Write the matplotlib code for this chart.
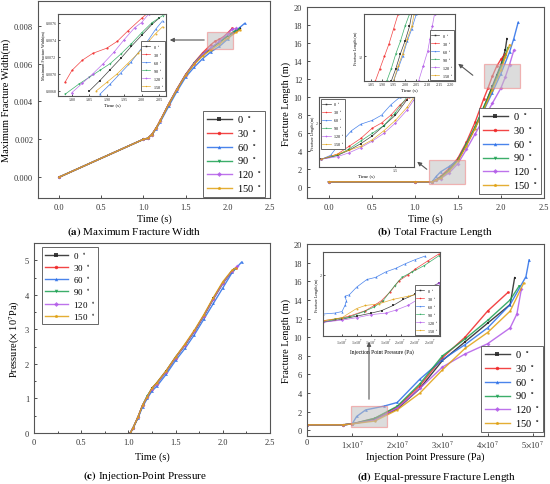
import matplotlib
matplotlib.use('Agg')
import matplotlib.pyplot as plt
import numpy as np
from matplotlib.patches import Rectangle
from matplotlib.ticker import FormatStrFormatter, FuncFormatter, MultipleLocator

plt.rcParams['font.family'] = ['Liberation Serif', 'DejaVu Serif']
plt.rcParams['mathtext.fontset'] = 'stix'

angles = [0, 30, 60, 90, 120, 150]
colors = ['#222222', '#f02424', '#2a6ee8', '#1aa050', '#b25ae8', '#e0a010']
markers = ['s', 'o', '^', 'v', 'D', 'p']

# (a) maximum fracture width vs time
a_time = [
    [0.0, 1.0, 1.05, 1.1, 1.15, 1.2, 1.3, 1.4, 1.5, 1.6, 1.7, 1.8, 1.9, 2.0, 2.1, 2.15],
    [0.0, 1.0, 1.05, 1.1, 1.15, 1.2, 1.3, 1.4, 1.5, 1.6, 1.7, 1.8, 1.85, 1.9, 1.95, 2.0, 2.05],
    [0.0, 1.0, 1.05, 1.1, 1.15, 1.2, 1.3, 1.4, 1.5, 1.6, 1.7, 1.8, 1.9, 2.0, 2.1, 2.2],
    [0.0, 1.0, 1.05, 1.1, 1.15, 1.2, 1.3, 1.4, 1.5, 1.6, 1.7, 1.8, 1.9, 2.0, 2.1, 2.12],
    [0.0, 1.0, 1.05, 1.1, 1.15, 1.2, 1.3, 1.4, 1.5, 1.6, 1.7, 1.8, 1.9, 2.0, 2.05, 2.1],
    [0.0, 1.0, 1.05, 1.1, 1.15, 1.2, 1.3, 1.4, 1.5, 1.6, 1.7, 1.8, 1.9, 2.0, 2.1, 2.15],
]
a_width = [
    [0.0, 0.00200, 0.00205, 0.00225, 0.00258, 0.00298, 0.00385, 0.00465, 0.00540, 0.00598, 0.00645, 0.00680, 0.00712, 0.00745, 0.00772, 0.00785],
    [0.0, 0.00200, 0.00205, 0.00226, 0.00260, 0.00300, 0.00388, 0.00468, 0.00542, 0.00604, 0.00656, 0.00700, 0.00718, 0.00728, 0.00742, 0.00762, 0.00785],
    [0.0, 0.00200, 0.00205, 0.00224, 0.00255, 0.00292, 0.00375, 0.00455, 0.00528, 0.00580, 0.00625, 0.00662, 0.00690, 0.00730, 0.00775, 0.00812],
    [0.0, 0.00200, 0.00205, 0.00225, 0.00258, 0.00298, 0.00386, 0.00466, 0.00540, 0.00602, 0.00650, 0.00682, 0.00712, 0.00748, 0.00778, 0.00782],
    [0.0, 0.00200, 0.00205, 0.00225, 0.00258, 0.00298, 0.00386, 0.00466, 0.00540, 0.00600, 0.00648, 0.00685, 0.00718, 0.00758, 0.00780, 0.00785],
    [0.0, 0.00200, 0.00205, 0.00225, 0.00258, 0.00298, 0.00385, 0.00464, 0.00538, 0.00595, 0.00640, 0.00672, 0.00702, 0.00735, 0.00765, 0.00778],
]
ins_a_time = [
    [1.85, 1.88, 1.91, 1.94, 1.97, 2.00, 2.03, 2.05],
    [1.78, 1.80, 1.83, 1.86, 1.90, 1.93, 1.96, 2.00, 2.02],
    [1.88, 1.91, 1.94, 1.97, 2.00, 2.02, 2.04, 2.06],
    [1.78, 1.82, 1.85, 1.88, 1.91, 1.94, 1.97, 2.00, 2.03, 2.06],
    [1.80, 1.83, 1.86, 1.89, 1.92, 1.95, 1.98, 2.00, 2.02],
    [1.87, 1.90, 1.93, 1.96, 1.99, 2.02, 2.04, 2.06],
]
ins_a_width = [
    [0.00680, 0.00692, 0.00705, 0.00718, 0.00732, 0.00745, 0.00758, 0.00765],
    [0.00690, 0.00704, 0.00716, 0.00724, 0.00730, 0.00738, 0.00750, 0.00765, 0.00772],
    [0.00676, 0.00688, 0.00701, 0.00714, 0.00730, 0.00740, 0.00752, 0.00762],
    [0.00676, 0.00688, 0.00696, 0.00704, 0.00712, 0.00723, 0.00735, 0.00748, 0.00760, 0.00768],
    [0.00678, 0.00689, 0.00700, 0.00712, 0.00725, 0.00740, 0.00754, 0.00760, 0.00770],
    [0.00680, 0.00690, 0.00700, 0.00712, 0.00724, 0.00738, 0.00747, 0.00755],
]

# (b) total fracture length vs time
b_time = [
    [0.0, 1.0, 1.2, 1.25, 1.3, 1.4, 1.5, 1.6, 1.7, 1.8, 1.9, 1.95, 2.0, 2.05, 2.07],
    [0.0, 1.0, 1.2, 1.25, 1.3, 1.4, 1.5, 1.6, 1.7, 1.8, 1.85, 1.9, 1.95, 2.0, 2.05],
    [0.0, 1.0, 1.2, 1.25, 1.3, 1.4, 1.5, 1.6, 1.7, 1.8, 1.9, 2.0, 2.1, 2.15, 2.2],
    [0.0, 1.0, 1.2, 1.25, 1.3, 1.4, 1.5, 1.6, 1.7, 1.8, 1.9, 1.95, 2.0, 2.05, 2.08],
    [0.0, 1.0, 1.2, 1.25, 1.3, 1.4, 1.5, 1.6, 1.7, 1.8, 1.9, 2.0, 2.05, 2.1, 2.15],
    [0.0, 1.0, 1.2, 1.25, 1.3, 1.4, 1.5, 1.6, 1.7, 1.8, 1.9, 2.0, 2.05, 2.1],
]
b_length = [
    [0.6, 0.6, 0.6, 0.8, 1.1, 1.9, 3.0, 4.7, 6.6, 8.8, 11.2, 12.4, 13.6, 15.2, 16.5],
    [0.6, 0.6, 0.6, 0.85, 1.2, 2.1, 3.2, 5.0, 7.2, 9.8, 11.0, 12.3, 13.4, 14.2, 14.8],
    [0.6, 0.6, 0.6, 1.2, 1.7, 2.3, 3.0, 4.8, 6.6, 8.5, 10.5, 12.6, 15.0, 16.5, 18.3],
    [0.6, 0.6, 0.6, 0.8, 1.1, 1.9, 3.0, 4.8, 6.7, 8.9, 11.0, 12.2, 13.4, 14.6, 15.5],
    [0.6, 0.6, 0.6, 0.75, 0.95, 1.6, 2.6, 4.2, 5.9, 7.6, 9.3, 11.0, 12.2, 13.6, 15.2],
    [0.6, 0.6, 0.6, 0.8, 1.0, 1.8, 2.9, 4.6, 6.5, 8.6, 10.8, 13.0, 14.4, 15.8],
]
ins_b1_time = [
    [1.94, 1.96, 1.98, 2.00, 2.02, 2.03],
    [1.87, 1.89, 1.91, 1.93, 1.95, 1.97],
    [1.95, 1.97, 1.99, 2.01, 2.03, 2.05],
    [1.92, 1.94, 1.96, 1.98, 2.00, 2.02],
    [2.06, 2.08, 2.10, 2.11, 2.12, 2.13],
    [1.95, 1.97, 1.99, 2.01, 2.03, 2.04],
]
ins_b1_length = [
    [11.0, 11.5, 12.1, 12.6, 13.2, 13.7],
    [11.0, 11.5, 12.0, 12.5, 13.1, 13.7],
    [11.0, 11.5, 12.0, 12.6, 13.1, 13.7],
    [11.0, 11.5, 12.1, 12.6, 13.2, 13.7],
    [11.0, 11.6, 12.2, 12.7, 13.2, 13.7],
    [11.0, 11.6, 12.1, 12.7, 13.2, 13.7],
]
ins_b2_time = [
    [1.18, 1.25, 1.30, 1.35, 1.40, 1.45, 1.50, 1.55],
    [1.18, 1.25, 1.30, 1.35, 1.40, 1.44, 1.48, 1.52, 1.56],
    [1.18, 1.22, 1.25, 1.28, 1.31, 1.35, 1.40, 1.44, 1.48, 1.52],
    [1.18, 1.25, 1.30, 1.35, 1.40, 1.45, 1.50, 1.55],
    [1.18, 1.25, 1.30, 1.35, 1.40, 1.45, 1.50, 1.55, 1.58],
    [1.18, 1.25, 1.30, 1.35, 1.40, 1.45, 1.50, 1.55, 1.58],
]
ins_b2_length = [
    [0.6, 0.75, 0.95, 1.2, 1.5, 1.9, 2.3, 2.9],
    [0.6, 0.8, 1.1, 1.4, 1.8, 2.0, 2.3, 2.7, 3.0],
    [0.6, 0.75, 1.1, 1.4, 1.7, 1.95, 2.1, 2.3, 2.7, 3.0],
    [0.6, 0.75, 1.0, 1.3, 1.6, 1.9, 2.4, 3.0],
    [0.6, 0.7, 0.85, 1.05, 1.3, 1.6, 2.0, 2.5, 2.9],
    [0.6, 0.8, 0.95, 1.1, 1.35, 1.7, 2.1, 2.6, 3.0],
]

# (c) injection-point pressure (x 10^7 Pa) vs time
c_time = [
    [1.02, 1.05, 1.1, 1.15, 1.2, 1.25, 1.3, 1.4, 1.5, 1.6, 1.7, 1.8, 1.9, 2.0, 2.1, 2.15],
    [1.02, 1.05, 1.1, 1.15, 1.2, 1.25, 1.3, 1.4, 1.5, 1.6, 1.7, 1.8, 1.9, 2.0, 2.1, 2.14],
    [1.02, 1.05, 1.1, 1.15, 1.2, 1.25, 1.3, 1.4, 1.5, 1.6, 1.7, 1.8, 1.9, 2.0, 2.1, 2.2],
    [1.02, 1.05, 1.1, 1.15, 1.2, 1.25, 1.3, 1.4, 1.5, 1.6, 1.7, 1.8, 1.9, 2.0, 2.1, 2.12],
    [1.02, 1.05, 1.1, 1.15, 1.2, 1.25, 1.3, 1.4, 1.5, 1.6, 1.7, 1.8, 1.9, 2.0, 2.1, 2.15],
    [1.02, 1.05, 1.1, 1.15, 1.2, 1.25, 1.3, 1.4, 1.5, 1.6, 1.7, 1.8, 1.9, 2.0, 2.1, 2.14],
]
c_pressure = [
    [0.0, 0.15, 0.45, 0.80, 1.05, 1.30, 1.45, 1.80, 2.20, 2.55, 2.95, 3.40, 3.90, 4.35, 4.70, 4.80],
    [0.0, 0.15, 0.45, 0.80, 1.05, 1.28, 1.43, 1.78, 2.18, 2.55, 2.95, 3.40, 3.88, 4.33, 4.70, 4.78],
    [0.0, 0.15, 0.42, 0.76, 1.00, 1.22, 1.35, 1.70, 2.10, 2.45, 2.85, 3.30, 3.75, 4.20, 4.65, 4.95],
    [0.0, 0.15, 0.45, 0.80, 1.08, 1.28, 1.43, 1.78, 2.18, 2.55, 2.95, 3.40, 3.88, 4.33, 4.70, 4.75],
    [0.0, 0.15, 0.45, 0.80, 1.05, 1.28, 1.42, 1.78, 2.18, 2.55, 2.95, 3.40, 3.88, 4.33, 4.70, 4.82],
    [0.0, 0.15, 0.45, 0.80, 1.05, 1.30, 1.45, 1.80, 2.20, 2.58, 2.98, 3.43, 3.92, 4.38, 4.72, 4.78],
]

# (d) fracture length vs injection-point pressure (Pa)
d_pressure = [
    [0.0, 0.8e7, 1.0e7, 1.5e7, 2.0e7, 2.5e7, 3.0e7, 3.5e7, 4.0e7, 4.5e7, 4.6e7],
    [0.0, 0.8e7, 1.0e7, 1.5e7, 2.0e7, 2.5e7, 3.0e7, 3.5e7, 4.0e7, 4.45e7],
    [0.0, 0.8e7, 1.0e7, 1.1e7, 1.3e7, 1.7e7, 2.0e7, 2.5e7, 3.0e7, 3.5e7, 4.0e7, 4.5e7, 4.85e7, 4.92e7],
    [0.0, 0.8e7, 1.0e7, 1.5e7, 2.0e7, 2.5e7, 3.0e7, 3.5e7, 4.0e7, 4.5e7, 4.7e7],
    [0.0, 0.8e7, 1.0e7, 1.5e7, 2.0e7, 2.5e7, 3.0e7, 3.5e7, 4.0e7, 4.5e7, 4.65e7, 4.75e7],
    [0.0, 0.8e7, 1.0e7, 1.5e7, 2.0e7, 2.5e7, 3.0e7, 3.5e7, 4.0e7, 4.5e7, 4.8e7],
]
d_length = [
    [0.6, 0.6, 0.7, 1.2, 2.3, 4.5, 7.5, 9.5, 11.5, 13.5, 16.4],
    [0.6, 0.6, 0.7, 1.3, 2.5, 4.8, 7.8, 10.0, 12.8, 14.8],
    [0.6, 0.6, 0.7, 1.5, 2.2, 2.6, 3.0, 5.5, 7.6, 9.2, 11.0, 13.5, 16.5, 18.3],
    [0.6, 0.6, 0.7, 1.3, 2.6, 5.0, 8.0, 9.8, 11.8, 14.0, 15.5],
    [0.6, 0.6, 0.7, 1.1, 2.4, 4.5, 6.8, 8.2, 9.3, 11.0, 12.5, 15.2],
    [0.6, 0.6, 0.7, 1.0, 2.2, 4.0, 6.5, 8.8, 10.5, 12.8, 15.8],
]
ins_d_pressure = [
    [0.97e7, 1.10e7, 1.20e7, 1.30e7, 1.37e7, 1.45e7, 1.52e7, 1.60e7, 1.68e7, 1.76e7],
    [0.97e7, 1.05e7, 1.15e7, 1.26e7, 1.32e7, 1.37e7, 1.43e7, 1.49e7, 1.55e7, 1.60e7, 1.69e7, 1.76e7],
    [0.97e7, 1.05e7, 1.10e7, 1.12e7, 1.13e7, 1.12e7, 1.15e7, 1.20e7, 1.27e7, 1.33e7, 1.40e7, 1.47e7, 1.53e7, 1.60e7, 1.67e7],
    [0.97e7, 1.05e7, 1.15e7, 1.25e7, 1.32e7, 1.38e7, 1.46e7, 1.51e7, 1.58e7, 1.66e7, 1.76e7],
    [0.97e7, 1.10e7, 1.20e7, 1.30e7, 1.40e7, 1.47e7, 1.55e7, 1.62e7, 1.70e7, 1.76e7],
    [0.97e7, 1.10e7, 1.20e7, 1.26e7, 1.35e7, 1.45e7, 1.55e7, 1.62e7, 1.70e7, 1.76e7],
]
ins_d_length = [
    [0.45, 0.55, 0.65, 0.75, 0.83, 1.00, 1.20, 1.37, 1.55, 1.72],
    [0.50, 0.55, 0.65, 0.83, 1.00, 1.16, 1.45, 1.81, 2.00, 2.19, 2.47, 2.68],
    [0.72, 0.75, 0.80, 1.00, 1.15, 1.30, 1.35, 1.60, 1.85, 1.92, 2.10, 2.22, 2.36, 2.50, 2.62],
    [0.45, 0.55, 0.62, 0.80, 0.95, 1.15, 1.65, 1.92, 2.10, 2.30, 2.62],
    [0.45, 0.52, 0.60, 0.70, 0.75, 0.85, 1.00, 1.20, 1.45, 1.75],
    [0.50, 0.60, 0.90, 1.00, 1.05, 1.20, 1.30, 1.37, 1.50, 1.55],
]

W, H = 550, 485
fig = plt.figure(figsize=(5.5, 4.85), dpi=100)


def px(l, t, r, b):
    return [l / W, 1 - b / H, (r - l) / W, (b - t) / H]


def fp(x, y):
    return (x / W, 1 - y / H)


def style(ax, size=6):
    for s in ax.spines.values():
        s.set_color('#555555')
        s.set_linewidth(0.8)
    ax.tick_params(direction='in', labelsize=size, length=2.5, width=0.6, colors='#333333')


def draw(ax, xs, ys, ms=2.0, lw=1.0):
    for i in range(len(angles)):
        ax.plot(xs[i], ys[i], color=colors[i], marker=markers[i], markersize=ms,
                markeredgewidth=0, linewidth=lw, alpha=0.85,
                label=f'{angles[i]}' + r'  $^{\circ}$')


def legend(ax, x, y, loc, size=7.5, hl=2.4, ms=2.5):
    lg = ax.legend(loc=loc, bbox_to_anchor=fp(x, y), bbox_transform=fig.transFigure,
                   borderaxespad=0, fontsize=size, handlelength=hl, fancybox=False,
                   edgecolor='#666666', framealpha=1, labelspacing=0.25, borderpad=0.3,
                   handletextpad=0.5, markerscale=ms / 2.0)
    lg.get_frame().set_linewidth(0.7)


def arrow(p0, p1):
    fig.add_artist(matplotlib.patches.FancyArrowPatch(
        fp(*p0), fp(*p1), transform=fig.transFigure, arrowstyle='-|>',
        mutation_scale=6, color='#555555', lw=0.8))


def zoombox(ax, x0, x1, y0, y1):
    ax.add_patch(Rectangle((x0, y0), x1 - x0, y1 - y0, facecolor='#c0c0c0', alpha=0.55,
                           edgecolor='#f08080', linewidth=0.9, zorder=3))


# ---------- (a)
ax = fig.add_axes(px(38, 2, 270, 199))
draw(ax, a_time, a_width)
ax.set_xlim(-0.25, 2.5)
ax.set_ylim(-0.0011, 0.0093)
ax.set_xticks(np.arange(0, 2.6, 0.5))
ax.set_yticks(np.arange(0, 0.0081, 0.002))
ax.xaxis.set_major_formatter(FormatStrFormatter('%.1f'))
ax.yaxis.set_major_formatter(FormatStrFormatter('%.3f'))
style(ax)
ax.set_xlabel('Time (s)', fontsize=7.5, labelpad=2)
ax.set_ylabel('Maximum Fracture Width(m)', fontsize=7.5, labelpad=2)
zoombox(ax, 1.75, 2.06, 0.00674, 0.00768)
legend(ax, 265, 198, 'lower right')

ia = fig.add_axes(px(58, 15, 166, 97))
draw(ia, ins_a_time, ins_a_width, ms=1.6, lw=0.5)
ia.set_xlim(1.76, 2.07)
ia.set_ylim(0.00674, 0.00770)
ia.set_xticks(np.arange(1.80, 2.06, 0.05))
ia.set_yticks(np.arange(0.0068, 0.00761, 0.0002))
ia.xaxis.set_major_formatter(FormatStrFormatter('%.2f'))
ia.yaxis.set_major_formatter(FormatStrFormatter('%.4f'))
style(ia, 3)
ia.tick_params(length=1.2, pad=1)
ia.set_xlabel('Time (s)', fontsize=3.5, labelpad=0.5)
ia.set_ylabel('Maximum Fracture Width(m)', fontsize=3, labelpad=0.5)
legend(ia, 165, 92, 'lower right', size=3, hl=2.0, ms=1.4)
arrow((207, 41), (167, 41))

# ---------- (b)
ax = fig.add_axes(px(307, 8, 544, 199))
draw(ax, b_time, b_length)
ax.set_xlim(-0.25, 2.5)
ax.set_ylim(-1.2, 20)
ax.set_xticks(np.arange(0, 2.6, 0.5))
ax.set_yticks(np.arange(0, 21, 2))
ax.xaxis.set_major_formatter(FormatStrFormatter('%.1f'))
style(ax)
ax.set_xlabel('Time (s)', fontsize=7.5, labelpad=2)
ax.set_ylabel('Fracture Length (m)', fontsize=7.5, labelpad=2)
zoombox(ax, 1.8, 2.22, 11.0, 13.7)
zoombox(ax, 1.17, 1.58, 0.3, 3.0)
legend(ax, 541, 195, 'lower right')

ib1 = fig.add_axes(px(364, 15, 455, 82))
draw(ib1, ins_b1_time, ins_b1_length, ms=1.6, lw=0.5)
ib1.set_xlim(1.82, 2.22)
ib1.set_ylim(11.0, 13.7)
ib1.set_xticks(np.arange(1.85, 2.21, 0.05))
ib1.set_yticks([12])
ib1.xaxis.set_major_formatter(FormatStrFormatter('%.2f'))
style(ib1, 3)
ib1.tick_params(length=1.2, pad=1)
ib1.set_xlabel('Time (s)', fontsize=3.5, labelpad=0.5)
ib1.set_ylabel('Fracture Length (m)', fontsize=3, labelpad=0.5)
legend(ib1, 454, 81, 'lower right', size=3, hl=2.0, ms=1.4)

ib2 = fig.add_axes(px(319, 98, 414, 168))
draw(ib2, ins_b2_time, ins_b2_length, ms=1.6, lw=0.5)
ib2.set_xlim(1.17, 1.58)
ib2.set_ylim(0.3, 3.0)
ib2.set_xticks([1.5])
ib2.set_yticks([2])
style(ib2, 3)
ib2.tick_params(length=1.2, pad=1)
ib2.set_xlabel('Time (s)', fontsize=3.5, labelpad=0.5)
ib2.set_ylabel('Fracture Length (m)', fontsize=3, labelpad=0.5)
legend(ib2, 321, 100, 'upper left', size=3, hl=2.0, ms=1.4)
arrow((475, 78), (456, 63))
arrow((429, 172), (415, 161))

# ---------- (c)
ax = fig.add_axes(px(34, 244, 270, 434))
draw(ax, c_time, c_pressure)
ax.set_xlim(0, 2.5)
ax.set_ylim(0, 5.5)
ax.set_xticks(np.arange(0, 2.6, 0.5))
ax.set_xticklabels(['0', '0.5', '1.0', '1.5', '2.0', '2.5'])
ax.set_yticks(np.arange(0, 6, 1))
ax.xaxis.set_minor_locator(MultipleLocator(0.25))
ax.yaxis.set_minor_locator(MultipleLocator(0.5))
style(ax)
ax.tick_params(which='minor', direction='in', length=1.5, width=0.5)
ax.set_xlabel('Time (s)', fontsize=7.5, labelpad=4)
ax.set_ylabel(r'Pressure($\times$ 10$^{7}$Pa)', fontsize=7.5, labelpad=2)
legend(ax, 42, 248, 'upper left', size=6.5, hl=2.6)

# ---------- (d)
ax = fig.add_axes(px(307, 245, 544, 437))
draw(ax, d_pressure, d_length)
ax.set_xlim(0, 5.25e7)
ax.set_ylim(-0.6, 20)
ax.set_xticks(np.arange(0, 5.1e7, 1e7))
ax.set_yticks(np.arange(0, 21, 2))
ax.xaxis.set_major_formatter(FuncFormatter(
    lambda v, p: '0' if v == 0 else r'%d$\times$10$^{7}$' % round(v / 1e7)))
style(ax)
ax.tick_params(axis='x', pad=1.5)
ax.set_xlabel('Injection Point Pressure (Pa)', fontsize=7.5, labelpad=2)
ax.set_ylabel('Fracture Length (m)', fontsize=7.5, labelpad=2)
zoombox(ax, 0.97e7, 1.77e7, 0.33, 2.64)
legend(ax, 543, 433, 'lower right')

idd = fig.add_axes(px(323, 253, 440, 337))
draw(idd, ins_d_pressure, ins_d_length, ms=1.6, lw=0.5)
idd.set_xlim(0.97e7, 1.77e7)
idd.set_ylim(0.0, 2.75)
idd.set_xticks(np.arange(1.1e7, 1.75e7, 0.1e7))
idd.set_yticks([2])
idd.xaxis.set_major_formatter(FuncFormatter(
    lambda v, p: r'%.0f$\times$10$^{7}$' % (v / 1e7)))
style(idd, 3)
idd.tick_params(length=1.2, pad=1)
idd.set_xlabel('Injection Point Pressure (Pa)', fontsize=4, labelpad=1.5)
idd.set_ylabel('Fracture Length (m)', fontsize=3, labelpad=0.5)
legend(idd, 439, 336, 'lower right', size=3, hl=2.0, ms=1.4)
arrow((369, 403), (369, 340))

# captions
fig.text(*fp(134, 232), r'$\mathbf{(a)}$ Maximum Fracture Width', ha='center', va='center', fontsize=8)
fig.text(*fp(435, 232), r'$\mathbf{(b)}$ Total Fracture Length', ha='center', va='center', fontsize=8)
fig.text(*fp(145, 476), r'$\mathbf{(c)}$ Injection-Point Pressure', ha='center', va='center', fontsize=8)
fig.text(*fp(437, 477), r'$\mathbf{(d)}$ Equal-pressure Fracture Length', ha='center', va='center', fontsize=8)

fig.savefig('out.png', dpi=100)
